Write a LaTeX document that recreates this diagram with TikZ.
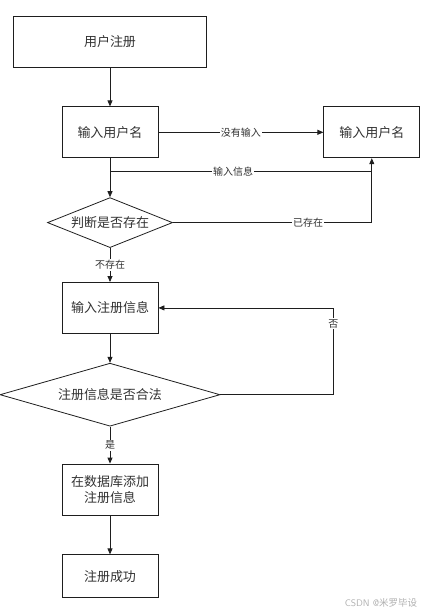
\documentclass[tikz,border=0pt]{standalone}
\usepackage{fontspec}
\usepackage{tikz}
\usetikzlibrary{shapes.geometric, arrows.meta, positioning, calc}
\newfontfamily\cjk{Noto Sans CJK SC}
\definecolor{linegray}{RGB}{30,30,30}
\definecolor{textgray}{RGB}{50,50,50}
\definecolor{markgray}{RGB}{175,175,175}
\tikzset{
  block/.style={rectangle, draw=linegray, line width=0.8pt, minimum width=96pt,
    minimum height=51pt, inner sep=2pt, align=center, text=textgray,
    font=\cjk\fontsize{13}{16}\selectfont},
  decision/.style={diamond, draw=linegray, line width=0.8pt, inner sep=0pt,
    aspect=2.5, text=textgray, font=\cjk\fontsize{13}{16}\selectfont},
  arrow/.style={-{Triangle[length=6pt, width=5pt]}, line width=0.8pt, color=linegray},
  link/.style={line width=0.8pt, color=linegray},
  tag/.style={fill=white, inner sep=1pt, text=textgray,
    font=\cjk\fontsize{10}{12}\selectfont},
}
\begin{document}
\begin{tikzpicture}[x=1pt, y=1pt]
  \useasboundingbox (0,0) rectangle (423,-614);

  \node[block, minimum width=193pt] (user) at (110,-41.5) {用户注册};
  \node[block, below=39pt of user] (name) {输入用户名};
  \node[block, right=165pt of name] (name2) {输入用户名};
  \node[decision, below=39pt of name, minimum width=125pt, minimum height=50pt]
    (check) {判断是否存在};
  \node[block, below=34pt of check] (info) {输入注册信息};
  \node[decision, below=29pt of info, minimum width=220pt, minimum height=63pt]
    (legal) {注册信息是否合法};
  \node[block, below=37pt of legal] (save) {在数据库添加\\注册信息};
  \node[block, below=39pt of save, minimum height=43pt] (done) {注册成功};

  \coordinate (joinr) at ($(name2.south)+(0,-13pt)$);
  \coordinate (joinl) at (name.south |- joinr);
  \coordinate (backr) at ($(legal.east)+(113pt,0)$);

  \draw[arrow] (user) -- (name);
  \draw[arrow] (name) -- node[tag]{没有输入} (name2);
  \draw[arrow] (name) -- (check);
  \draw[link]  (joinr) -- node[tag, pos=0.53]{输入信息} (joinl);
  \draw[arrow] (check.east) -- node[tag, pos=0.68]{已存在} (name2.south |- check.east)
    -- (name2.south);
  \draw[arrow] (check) -- node[tag]{不存在} (info);
  \draw[arrow] (info) -- (legal);
  \draw[arrow] (legal.east) -- (backr) -- node[tag, pos=0.82]{否} (backr |- info.east)
    -- (info.east);
  \draw[arrow] (legal) -- node[tag]{是} (save);
  \draw[arrow] (save) -- (done);

  \node[text=markgray, font=\sffamily\fontsize{9.5}{11}\selectfont] (mark) at (381,-603)
    {CSDN @{\cjk 米罗毕设}};
\end{tikzpicture}
\end{document}
